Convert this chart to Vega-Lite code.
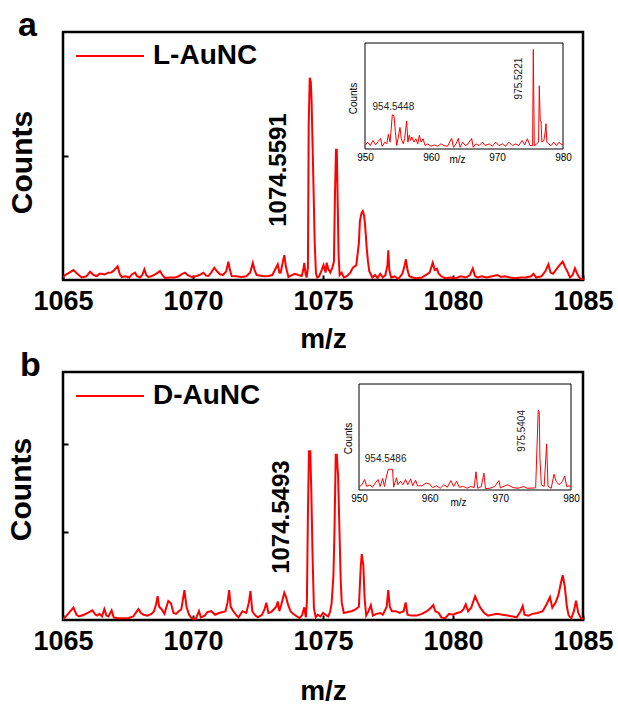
{
  "$schema": "https://vega.github.io/schema/vega-lite/v6.json",
  "padding": {"left": 4, "top": 7, "right": 0, "bottom": 5},
  "background": "white",
  "config": {
    "view": {"stroke": "black", "strokeWidth": 2.5},
    "font": "Liberation Sans",
    "axis": {"grid": false, "domain": false, "labelColor": "black", "titleColor": "black", "tickColor": "black"},
    "legend": {"labelFont": "Liberation Sans"}
  },
  "datasets": {
    "mainA": [
      {"mz":1065.00,"c":0.02},{"mz":1065.08,"c":0.04},{"mz":1065.25,"c":0.06},{"mz":1065.40,"c":0.08},{"mz":1065.55,"c":0.05},{"mz":1065.72,"c":0.02},{"mz":1065.90,"c":0.03},{"mz":1066.04,"c":0.067},{"mz":1066.18,"c":0.04},{"mz":1066.30,"c":0.032},{"mz":1066.40,"c":0.05},{"mz":1066.49,"c":0.051},{"mz":1066.60,"c":0.045},{"mz":1066.74,"c":0.059},{"mz":1066.85,"c":0.06},{"mz":1066.94,"c":0.073},{"mz":1067.10,"c":0.11},{"mz":1067.18,"c":0.05},{"mz":1067.26,"c":0.024},{"mz":1067.40,"c":0.03},{"mz":1067.55,"c":0.02},{"mz":1067.65,"c":0.045},{"mz":1067.77,"c":0.059},{"mz":1067.85,"c":0.03},{"mz":1067.96,"c":0.02},{"mz":1068.05,"c":0.04},{"mz":1068.13,"c":0.086},{"mz":1068.20,"c":0.04},{"mz":1068.28,"c":0.024},{"mz":1068.40,"c":0.03},{"mz":1068.54,"c":0.046},{"mz":1068.65,"c":0.06},{"mz":1068.73,"c":0.073},{"mz":1068.82,"c":0.04},{"mz":1068.92,"c":0.016},{"mz":1069.10,"c":0.02},{"mz":1069.31,"c":0.02},{"mz":1069.45,"c":0.03},{"mz":1069.55,"c":0.045},{"mz":1069.69,"c":0.059},{"mz":1069.80,"c":0.04},{"mz":1069.95,"c":0.024},{"mz":1070.10,"c":0.03},{"mz":1070.25,"c":0.04},{"mz":1070.40,"c":0.059},{"mz":1070.50,"c":0.035},{"mz":1070.59,"c":0.032},{"mz":1070.70,"c":0.06},{"mz":1070.82,"c":0.099},{"mz":1070.92,"c":0.07},{"mz":1071.04,"c":0.046},{"mz":1071.15,"c":0.04},{"mz":1071.28,"c":0.07},{"mz":1071.36,"c":0.148},{"mz":1071.42,"c":0.08},{"mz":1071.49,"c":0.032},{"mz":1071.65,"c":0.03},{"mz":1071.87,"c":0.024},{"mz":1072.05,"c":0.03},{"mz":1072.20,"c":0.06},{"mz":1072.30,"c":0.137},{"mz":1072.37,"c":0.08},{"mz":1072.45,"c":0.04},{"mz":1072.60,"c":0.035},{"mz":1072.75,"c":0.03},{"mz":1072.90,"c":0.032},{"mz":1073.05,"c":0.04},{"mz":1073.15,"c":0.08},{"mz":1073.26,"c":0.126},{"mz":1073.32,"c":0.06},{"mz":1073.37,"c":0.059},{"mz":1073.45,"c":0.14},{"mz":1073.51,"c":0.2},{"mz":1073.58,"c":0.1},{"mz":1073.67,"c":0.024},{"mz":1073.80,"c":0.04},{"mz":1073.92,"c":0.05},{"mz":1074.05,"c":0.04},{"mz":1074.18,"c":0.032},{"mz":1074.24,"c":0.08},{"mz":1074.28,"c":0.137},{"mz":1074.33,"c":0.05},{"mz":1074.37,"c":0.02},{"mz":1074.42,"c":0.1},{"mz":1074.45,"c":1.25},{"mz":1074.49,"c":1.63},{"mz":1074.53,"c":1.6},{"mz":1074.56,"c":1.45},{"mz":1074.60,"c":1.08},{"mz":1074.64,"c":0.7},{"mz":1074.68,"c":0.3},{"mz":1074.73,"c":0.05},{"mz":1074.78,"c":0.02},{"mz":1074.85,"c":0.03},{"mz":1074.95,"c":0.08},{"mz":1075.02,"c":0.12},{"mz":1075.10,"c":0.06},{"mz":1075.14,"c":0.14},{"mz":1075.20,"c":0.09},{"mz":1075.28,"c":0.06},{"mz":1075.36,"c":0.1},{"mz":1075.42,"c":0.15},{"mz":1075.46,"c":0.69},{"mz":1075.50,"c":1.05},{"mz":1075.53,"c":1.05},{"mz":1075.56,"c":0.69},{"mz":1075.60,"c":0.2},{"mz":1075.64,"c":0.04},{"mz":1075.72,"c":0.06},{"mz":1075.80,"c":0.02},{"mz":1075.92,"c":0.03},{"mz":1076.05,"c":0.06},{"mz":1076.15,"c":0.1},{"mz":1076.28,"c":0.12},{"mz":1076.38,"c":0.3},{"mz":1076.42,"c":0.476},{"mz":1076.48,"c":0.54},{"mz":1076.53,"c":0.556},{"mz":1076.58,"c":0.52},{"mz":1076.62,"c":0.44},{"mz":1076.68,"c":0.26},{"mz":1076.73,"c":0.15},{"mz":1076.78,"c":0.07},{"mz":1076.90,"c":0.02},{"mz":1077.00,"c":0.04},{"mz":1077.10,"c":0.015},{"mz":1077.20,"c":0.05},{"mz":1077.30,"c":0.02},{"mz":1077.40,"c":0.04},{"mz":1077.48,"c":0.12},{"mz":1077.51,"c":0.24},{"mz":1077.55,"c":0.08},{"mz":1077.62,"c":0.02},{"mz":1077.75,"c":0.03},{"mz":1077.90,"c":0.01},{"mz":1078.05,"c":0.05},{"mz":1078.12,"c":0.1},{"mz":1078.19,"c":0.167},{"mz":1078.25,"c":0.08},{"mz":1078.32,"c":0.03},{"mz":1078.45,"c":0.02},{"mz":1078.60,"c":0.015},{"mz":1078.80,"c":0.02},{"mz":1078.95,"c":0.04},{"mz":1079.10,"c":0.06},{"mz":1079.22,"c":0.14},{"mz":1079.30,"c":0.08},{"mz":1079.38,"c":0.09},{"mz":1079.45,"c":0.05},{"mz":1079.55,"c":0.03},{"mz":1079.70,"c":0.015},{"mz":1079.90,"c":0.02},{"mz":1080.10,"c":0.015},{"mz":1080.30,"c":0.03},{"mz":1080.50,"c":0.02},{"mz":1080.65,"c":0.04},{"mz":1080.76,"c":0.094},{"mz":1080.85,"c":0.03},{"mz":1080.95,"c":0.02},{"mz":1081.10,"c":0.03},{"mz":1081.30,"c":0.02},{"mz":1081.50,"c":0.03},{"mz":1081.70,"c":0.04},{"mz":1081.85,"c":0.025},{"mz":1082.00,"c":0.03},{"mz":1082.20,"c":0.02},{"mz":1082.40,"c":0.015},{"mz":1082.60,"c":0.02},{"mz":1082.80,"c":0.02},{"mz":1083.00,"c":0.03},{"mz":1083.10,"c":0.05},{"mz":1083.20,"c":0.02},{"mz":1083.40,"c":0.03},{"mz":1083.55,"c":0.07},{"mz":1083.67,"c":0.126},{"mz":1083.75,"c":0.06},{"mz":1083.85,"c":0.05},{"mz":1083.95,"c":0.08},{"mz":1084.10,"c":0.12},{"mz":1084.22,"c":0.148},{"mz":1084.32,"c":0.1},{"mz":1084.42,"c":0.06},{"mz":1084.50,"c":0.02},{"mz":1084.60,"c":0.04},{"mz":1084.69,"c":0.094},{"mz":1084.80,"c":0.04},{"mz":1084.90,"c":0.01},{"mz":1085.00,"c":0.005}
    ],
    "mainB": [
      {"mz":1065.00,"c":0.01},{"mz":1065.08,"c":0.03},{"mz":1065.25,"c":0.09},{"mz":1065.40,"c":0.14},{"mz":1065.52,"c":0.06},{"mz":1065.62,"c":0.04},{"mz":1065.80,"c":0.06},{"mz":1065.95,"c":0.08},{"mz":1066.13,"c":0.11},{"mz":1066.25,"c":0.06},{"mz":1066.32,"c":0.05},{"mz":1066.40,"c":0.07},{"mz":1066.50,"c":0.04},{"mz":1066.59,"c":0.124},{"mz":1066.67,"c":0.05},{"mz":1066.75,"c":0.04},{"mz":1066.87,"c":0.11},{"mz":1066.95,"c":0.03},{"mz":1067.10,"c":0.02},{"mz":1067.30,"c":0.02},{"mz":1067.50,"c":0.02},{"mz":1067.70,"c":0.04},{"mz":1067.90,"c":0.124},{"mz":1068.00,"c":0.08},{"mz":1068.10,"c":0.06},{"mz":1068.25,"c":0.05},{"mz":1068.40,"c":0.07},{"mz":1068.50,"c":0.1},{"mz":1068.58,"c":0.18},{"mz":1068.64,"c":0.27},{"mz":1068.70,"c":0.15},{"mz":1068.80,"c":0.12},{"mz":1068.90,"c":0.07},{"mz":1069.05,"c":0.216},{"mz":1069.15,"c":0.19},{"mz":1069.25,"c":0.08},{"mz":1069.35,"c":0.07},{"mz":1069.45,"c":0.1},{"mz":1069.55,"c":0.12},{"mz":1069.67,"c":0.34},{"mz":1069.75,"c":0.15},{"mz":1069.85,"c":0.06},{"mz":1069.95,"c":0.02},{"mz":1070.10,"c":0.01},{"mz":1070.23,"c":0.102},{"mz":1070.30,"c":0.03},{"mz":1070.45,"c":0.05},{"mz":1070.55,"c":0.09},{"mz":1070.70,"c":0.1},{"mz":1070.85,"c":0.06},{"mz":1071.00,"c":0.08},{"mz":1071.15,"c":0.09},{"mz":1071.25,"c":0.1},{"mz":1071.33,"c":0.2},{"mz":1071.39,"c":0.34},{"mz":1071.45,"c":0.15},{"mz":1071.55,"c":0.1},{"mz":1071.65,"c":0.06},{"mz":1071.75,"c":0.03},{"mz":1071.90,"c":0.1},{"mz":1072.05,"c":0.08},{"mz":1072.15,"c":0.2},{"mz":1072.21,"c":0.33},{"mz":1072.28,"c":0.1},{"mz":1072.40,"c":0.05},{"mz":1072.50,"c":0.03},{"mz":1072.65,"c":0.06},{"mz":1072.75,"c":0.12},{"mz":1072.82,"c":0.197},{"mz":1072.90,"c":0.08},{"mz":1073.00,"c":0.09},{"mz":1073.10,"c":0.12},{"mz":1073.20,"c":0.15},{"mz":1073.26,"c":0.21},{"mz":1073.32,"c":0.1},{"mz":1073.40,"c":0.18},{"mz":1073.51,"c":0.31},{"mz":1073.58,"c":0.26},{"mz":1073.65,"c":0.18},{"mz":1073.75,"c":0.1},{"mz":1073.85,"c":0.07},{"mz":1074.00,"c":0.04},{"mz":1074.10,"c":0.02},{"mz":1074.20,"c":0.06},{"mz":1074.28,"c":0.144},{"mz":1074.34,"c":0.03},{"mz":1074.38,"c":0.2},{"mz":1074.42,"c":1.2},{"mz":1074.46,"c":1.92},{"mz":1074.51,"c":1.92},{"mz":1074.55,"c":1.47},{"mz":1074.60,"c":0.71},{"mz":1074.65,"c":0.14},{"mz":1074.72,"c":0.03},{"mz":1074.80,"c":0.06},{"mz":1074.90,"c":0.04},{"mz":1075.00,"c":0.08},{"mz":1075.10,"c":0.06},{"mz":1075.20,"c":0.04},{"mz":1075.27,"c":0.09},{"mz":1075.33,"c":0.185},{"mz":1075.40,"c":0.5},{"mz":1075.44,"c":0.98},{"mz":1075.49,"c":1.88},{"mz":1075.53,"c":1.88},{"mz":1075.58,"c":1.64},{"mz":1075.63,"c":1.05},{"mz":1075.68,"c":0.46},{"mz":1075.72,"c":0.2},{"mz":1075.80,"c":0.08},{"mz":1075.95,"c":0.09},{"mz":1076.10,"c":0.1},{"mz":1076.25,"c":0.12},{"mz":1076.38,"c":0.15},{"mz":1076.45,"c":0.6},{"mz":1076.49,"c":0.75},{"mz":1076.55,"c":0.63},{"mz":1076.60,"c":0.25},{"mz":1076.66,"c":0.05},{"mz":1076.75,"c":0.1},{"mz":1076.84,"c":0.17},{"mz":1076.92,"c":0.05},{"mz":1077.05,"c":0.07},{"mz":1077.20,"c":0.08},{"mz":1077.30,"c":0.06},{"mz":1077.45,"c":0.15},{"mz":1077.51,"c":0.34},{"mz":1077.57,"c":0.15},{"mz":1077.65,"c":0.1},{"mz":1077.80,"c":0.1},{"mz":1077.95,"c":0.08},{"mz":1078.10,"c":0.1},{"mz":1078.18,"c":0.2},{"mz":1078.25,"c":0.06},{"mz":1078.40,"c":0.05},{"mz":1078.60,"c":0.05},{"mz":1078.80,"c":0.07},{"mz":1079.00,"c":0.1},{"mz":1079.15,"c":0.14},{"mz":1079.24,"c":0.17},{"mz":1079.32,"c":0.1},{"mz":1079.45,"c":0.08},{"mz":1079.55,"c":0.03},{"mz":1079.70,"c":0.02},{"mz":1079.85,"c":0.07},{"mz":1080.00,"c":0.06},{"mz":1080.15,"c":0.08},{"mz":1080.30,"c":0.09},{"mz":1080.40,"c":0.12},{"mz":1080.49,"c":0.18},{"mz":1080.58,"c":0.1},{"mz":1080.70,"c":0.14},{"mz":1080.85,"c":0.27},{"mz":1080.95,"c":0.2},{"mz":1081.05,"c":0.14},{"mz":1081.20,"c":0.08},{"mz":1081.35,"c":0.05},{"mz":1081.50,"c":0.06},{"mz":1081.70,"c":0.07},{"mz":1081.90,"c":0.06},{"mz":1082.10,"c":0.05},{"mz":1082.30,"c":0.04},{"mz":1082.45,"c":0.03},{"mz":1082.60,"c":0.1},{"mz":1082.68,"c":0.16},{"mz":1082.75,"c":0.06},{"mz":1082.90,"c":0.05},{"mz":1083.05,"c":0.07},{"mz":1083.25,"c":0.08},{"mz":1083.45,"c":0.1},{"mz":1083.60,"c":0.18},{"mz":1083.73,"c":0.26},{"mz":1083.82,"c":0.14},{"mz":1083.95,"c":0.2},{"mz":1084.05,"c":0.28},{"mz":1084.15,"c":0.42},{"mz":1084.22,"c":0.51},{"mz":1084.30,"c":0.38},{"mz":1084.38,"c":0.15},{"mz":1084.45,"c":0.05},{"mz":1084.55,"c":0.02},{"mz":1084.65,"c":0.1},{"mz":1084.73,"c":0.22},{"mz":1084.82,"c":0.08},{"mz":1084.92,"c":0.02},{"mz":1085.00,"c":0.01}
    ],
    "insetA": [
      {"mz":950.0,"c":0.1},{"mz":950.4,"c":0.2},{"mz":950.8,"c":0.1},{"mz":951.2,"c":0.25},{"mz":951.6,"c":0.12},{"mz":952.0,"c":0.22},{"mz":952.37,"c":0.31},{"mz":952.6,"c":0.08},{"mz":953.0,"c":0.2},{"mz":953.3,"c":0.15},{"mz":953.54,"c":0.43},{"mz":953.8,"c":0.2},{"mz":954.14,"c":1.0},{"mz":954.39,"c":0.97},{"mz":954.6,"c":0.5},{"mz":954.8,"c":0.1},{"mz":955.0,"c":0.3},{"mz":955.3,"c":0.63},{"mz":955.5,"c":0.3},{"mz":955.8,"c":0.15},{"mz":956.0,"c":0.3},{"mz":956.31,"c":0.82},{"mz":956.5,"c":0.2},{"mz":956.7,"c":0.4},{"mz":956.9,"c":0.25},{"mz":957.1,"c":0.35},{"mz":957.4,"c":0.2},{"mz":957.7,"c":0.3},{"mz":958.0,"c":0.15},{"mz":958.23,"c":0.4},{"mz":958.5,"c":0.2},{"mz":958.8,"c":0.3},{"mz":959.1,"c":0.1},{"mz":959.5,"c":0.15},{"mz":960.0,"c":0.08},{"mz":960.5,"c":0.12},{"mz":961.0,"c":0.08},{"mz":961.5,"c":0.15},{"mz":962.0,"c":0.1},{"mz":962.5,"c":0.08},{"mz":963.13,"c":0.31},{"mz":963.4,"c":0.05},{"mz":963.8,"c":0.15},{"mz":964.14,"c":0.31},{"mz":964.4,"c":0.05},{"mz":964.8,"c":0.2},{"mz":965.2,"c":0.1},{"mz":965.6,"c":0.15},{"mz":966.16,"c":0.31},{"mz":966.4,"c":0.05},{"mz":966.8,"c":0.15},{"mz":967.3,"c":0.1},{"mz":967.8,"c":0.2},{"mz":968.2,"c":0.1},{"mz":968.8,"c":0.15},{"mz":969.3,"c":0.08},{"mz":969.8,"c":0.2},{"mz":970.3,"c":0.1},{"mz":970.8,"c":0.15},{"mz":971.3,"c":0.08},{"mz":971.8,"c":0.2},{"mz":972.3,"c":0.1},{"mz":972.8,"c":0.15},{"mz":973.3,"c":0.1},{"mz":973.8,"c":0.25},{"mz":974.2,"c":0.12},{"mz":974.6,"c":0.3},{"mz":975.0,"c":0.1},{"mz":975.4,"c":0.1},{"mz":975.5,"c":2.91},{"mz":975.65,"c":0.1},{"mz":976.0,"c":0.15},{"mz":976.3,"c":0.2},{"mz":976.41,"c":1.85},{"mz":976.55,"c":0.82},{"mz":976.67,"c":0.82},{"mz":976.8,"c":0.2},{"mz":977.1,"c":0.25},{"mz":977.3,"c":0.5},{"mz":977.42,"c":0.74},{"mz":977.55,"c":0.2},{"mz":977.8,"c":0.15},{"mz":978.2,"c":0.1},{"mz":978.6,"c":0.2},{"mz":979.0,"c":0.1},{"mz":979.4,"c":0.2},{"mz":979.8,"c":0.12},{"mz":980.0,"c":0.15}
    ],
    "insetB": [
      {"mz":950.0,"c":0.08},{"mz":950.4,"c":0.15},{"mz":950.8,"c":0.3},{"mz":951.1,"c":0.1},{"mz":951.5,"c":0.15},{"mz":951.9,"c":0.08},{"mz":952.3,"c":0.2},{"mz":952.7,"c":0.3},{"mz":953.0,"c":0.1},{"mz":953.35,"c":0.33},{"mz":953.6,"c":0.1},{"mz":953.9,"c":0.4},{"mz":954.15,"c":0.59},{"mz":954.5,"c":0.59},{"mz":954.75,"c":0.59},{"mz":954.9,"c":0.08},{"mz":955.3,"c":0.35},{"mz":955.5,"c":0.15},{"mz":955.9,"c":0.25},{"mz":956.2,"c":0.15},{"mz":956.6,"c":0.3},{"mz":956.9,"c":0.15},{"mz":957.3,"c":0.32},{"mz":957.6,"c":0.12},{"mz":958.0,"c":0.28},{"mz":958.3,"c":0.12},{"mz":958.9,"c":0.12},{"mz":959.5,"c":0.2},{"mz":960.0,"c":0.17},{"mz":960.4,"c":0.07},{"mz":961.0,"c":0.12},{"mz":961.5,"c":0.05},{"mz":962.0,"c":0.15},{"mz":962.5,"c":0.08},{"mz":963.0,"c":0.27},{"mz":963.4,"c":0.1},{"mz":963.8,"c":0.25},{"mz":964.2,"c":0.08},{"mz":964.8,"c":0.1},{"mz":965.3,"c":0.05},{"mz":965.8,"c":0.1},{"mz":966.3,"c":0.07},{"mz":966.55,"c":0.52},{"mz":966.8,"c":0.05},{"mz":967.3,"c":0.1},{"mz":967.68,"c":0.48},{"mz":967.9,"c":0.04},{"mz":968.5,"c":0.05},{"mz":969.2,"c":0.1},{"mz":969.8,"c":0.27},{"mz":970.0,"c":0.06},{"mz":971.0,"c":0.15},{"mz":971.8,"c":0.07},{"mz":972.5,"c":0.05},{"mz":973.3,"c":0.1},{"mz":973.8,"c":0.05},{"mz":975.0,"c":0.06},{"mz":975.36,"c":2.28},{"mz":975.5,"c":2.25},{"mz":975.6,"c":0.92},{"mz":975.8,"c":0.15},{"mz":976.2,"c":0.1},{"mz":976.55,"c":1.32},{"mz":976.75,"c":0.1},{"mz":977.2,"c":0.05},{"mz":977.6,"c":0.45},{"mz":977.9,"c":0.25},{"mz":978.3,"c":0.15},{"mz":978.8,"c":0.25},{"mz":979.1,"c":0.4},{"mz":979.4,"c":0.1},{"mz":979.7,"c":0.12},{"mz":980.0,"c":0.1}
    ]
  },
  "bounds": "flush",
  "spacing": 92,
  "resolve": {"scale": {"color": "independent"}},
  "vconcat": [
    {
      "title": {"text": "a", "anchor": "start", "frame": "group", "fontSize": 34, "fontWeight": "bold", "dx": -45, "offset": -49, "baseline": "alphabetic", "color": "black"},
      "width": 520,
      "height": 248,
      "resolve": {"scale": {"x": "independent", "y": "independent"}},
      "layer": [
        {
          "layer": [
            {
              "data": {"name": "mainA"},
              "mark": {"type": "line", "strokeWidth": 2, "clip": true},
              "encoding": {
                "x": {"field": "mz", "type": "quantitative", "scale": {"domain": [1065, 1085], "nice": false, "zero": false},
                  "axis": {"orient": "bottom", "values": [1065, 1070, 1075, 1080, 1085], "format": "d", "title": "m/z", "titleFontSize": 28, "titleFontWeight": "bold", "titleY": 59, "titleBaseline": "middle", "labelFontSize": 27, "labelFontWeight": "bold", "labelPadding": 13, "tickSize": -5, "tickWidth": 2, "labelFlush": false, "labelOverlap": false}},
                "y": {"field": "c", "type": "quantitative", "scale": {"domain": [0, 2], "nice": false},
                  "axis": {"orient": "left", "values": [1], "labels": false, "tickSize": -5, "tickWidth": 2, "title": "Counts", "titleFontSize": 30, "titleFontWeight": "bold", "titleX": -41, "titleY": 130, "titleAngle": 270, "titleAlign": "center", "titleBaseline": "middle"}},
                "color": {"datum": "L-AuNC", "type": "nominal", "scale": {"range": ["#ff0000"]},
                  "legend": {"orient": "none", "legendX": 12, "legendY": -11, "title": null, "symbolType": "stroke", "symbolSize": 4624, "symbolStrokeWidth": 2, "labelFontSize": 28, "labelFontWeight": "bold", "labelOffset": 8, "labelColor": "black", "padding": 0}}
              }
            },
            {
              "data": {"values": [{"mz": 1073.31, "c": 0.887, "label": "1074.5591"}]},
              "mark": {"type": "text", "angle": 270, "fontSize": 24, "fontWeight": "bold", "align": "center", "baseline": "middle", "color": "black"},
              "encoding": {
                "x": {"field": "mz", "type": "quantitative"},
                "y": {"field": "c", "type": "quantitative"},
                "text": {"field": "label"}
              }
            }
          ]
        },
        {
          "layer": [
            {
              "data": {"values": [{"x1": 950, "x2": 980, "y1": 0, "y2": 3.1}]},
              "mark": {"type": "rect", "fill": "white", "stroke": "black", "strokeWidth": 1},
              "encoding": {
                "x": {"field": "x1", "type": "quantitative", "scale": {"domain": [950, 980], "range": [302, 500], "nice": false, "zero": false},
                  "axis": {"orient": "bottom", "offset": -131, "values": [950, 960, 970, 980], "format": "d", "labelFontSize": 10, "labelPadding": 3, "ticks": false, "labelFlush": false, "title": "m/z", "titleFontSize": 10, "titleFontWeight": "normal", "titleX": 394, "titleY": 10, "titleBaseline": "middle"}},
                "x2": {"field": "x2"},
                "y": {"field": "y1", "type": "quantitative", "scale": {"domain": [0, 3.1], "range": [117, 11], "nice": false},
                  "axis": {"orient": "left", "offset": -302, "values": [1, 2, 3], "labels": false, "tickSize": -3, "tickWidth": 1, "title": "Counts", "titleFontSize": 10, "titleFontWeight": "normal", "titleX": -12, "titleY": 66, "titleAngle": 270, "titleAlign": "center", "titleBaseline": "middle"}},
                "y2": {"field": "y2"}
              }
            },
            {
              "data": {"name": "insetA"},
              "mark": {"type": "line", "strokeWidth": 1, "color": "#ff0000"},
              "encoding": {
                "x": {"field": "mz", "type": "quantitative"},
                "y": {"field": "c", "type": "quantitative"}
              }
            },
            {
              "data": {"values": [{"mz": 954.3, "c": 1.24, "label": "954.5448"}]},
              "mark": {"type": "text", "fontSize": 10, "align": "center", "baseline": "middle", "color": "#222"},
              "encoding": {
                "x": {"field": "mz", "type": "quantitative"},
                "y": {"field": "c", "type": "quantitative"},
                "text": {"field": "label"}
              }
            },
            {
              "data": {"values": [{"mz": 973.3, "c": 2.06, "label": "975.5221"}]},
              "mark": {"type": "text", "angle": 270, "fontSize": 10, "align": "center", "baseline": "middle", "color": "#222"},
              "encoding": {
                "x": {"field": "mz", "type": "quantitative"},
                "y": {"field": "c", "type": "quantitative"},
                "text": {"field": "label"}
              }
            }
          ]
        }
      ]
    },
    {
      "title": {"text": "b", "anchor": "start", "frame": "group", "fontSize": 34, "fontWeight": "bold", "dx": -43, "offset": -49, "baseline": "alphabetic", "color": "black"},
      "width": 520,
      "height": 248,
      "resolve": {"scale": {"x": "independent", "y": "independent"}},
      "layer": [
        {
          "layer": [
            {
              "data": {"name": "mainB"},
              "mark": {"type": "line", "strokeWidth": 2, "clip": true},
              "encoding": {
                "x": {"field": "mz", "type": "quantitative", "scale": {"domain": [1065, 1085], "nice": false, "zero": false},
                  "axis": {"orient": "bottom", "values": [1065, 1070, 1075, 1080, 1085], "format": "d", "title": "m/z", "titleFontSize": 28, "titleFontWeight": "bold", "titleY": 71, "titleBaseline": "middle", "labelFontSize": 27, "labelFontWeight": "bold", "labelPadding": 13, "tickSize": -5, "tickWidth": 2, "labelFlush": false, "labelOverlap": false}},
                "y": {"field": "c", "type": "quantitative", "scale": {"domain": [0, 2.82], "nice": false},
                  "axis": {"orient": "left", "values": [1, 2], "labels": false, "tickSize": -5, "tickWidth": 2, "title": "Counts", "titleFontSize": 30, "titleFontWeight": "bold", "titleX": -42, "titleY": 117, "titleAngle": 270, "titleAlign": "center", "titleBaseline": "middle"}},
                "color": {"datum": "D-AuNC", "type": "nominal", "scale": {"range": ["#ff0000"]},
                  "legend": {"orient": "none", "legendX": 12, "legendY": -11, "title": null, "symbolType": "stroke", "symbolSize": 4624, "symbolStrokeWidth": 2, "labelFontSize": 28, "labelFontWeight": "bold", "labelOffset": 8, "labelColor": "black", "padding": 0}}
              }
            },
            {
              "data": {"values": [{"mz": 1073.42, "c": 1.17, "label": "1074.5493"}]},
              "mark": {"type": "text", "angle": 270, "fontSize": 24, "fontWeight": "bold", "align": "center", "baseline": "middle", "color": "black"},
              "encoding": {
                "x": {"field": "mz", "type": "quantitative"},
                "y": {"field": "c", "type": "quantitative"},
                "text": {"field": "label"}
              }
            }
          ]
        },
        {
          "layer": [
            {
              "data": {"values": [{"x1": 950, "x2": 980, "y1": 0, "y2": 3.03}]},
              "mark": {"type": "rect", "fill": "white", "stroke": "black", "strokeWidth": 1},
              "encoding": {
                "x": {"field": "x1", "type": "quantitative", "scale": {"domain": [950, 980], "range": [296, 508], "nice": false, "zero": false},
                  "axis": {"orient": "bottom", "offset": -130, "values": [950, 960, 970, 980], "format": "d", "labelFontSize": 10, "labelPadding": 3, "ticks": false, "labelFlush": false, "title": "m/z", "titleFontSize": 10, "titleFontWeight": "normal", "titleX": 395, "titleY": 12, "titleBaseline": "middle"}},
                "x2": {"field": "x2"},
                "y": {"field": "y1", "type": "quantitative", "scale": {"domain": [0, 3.03], "range": [118, 12], "nice": false},
                  "axis": {"orient": "left", "offset": -296, "values": [1, 2, 3], "labels": false, "tickSize": -3, "tickWidth": 1, "title": "Counts", "titleFontSize": 10, "titleFontWeight": "normal", "titleX": -11, "titleY": 66, "titleAngle": 270, "titleAlign": "center", "titleBaseline": "middle"}},
                "y2": {"field": "y2"}
              }
            },
            {
              "data": {"name": "insetB"},
              "mark": {"type": "line", "strokeWidth": 1, "color": "#ff0000"},
              "encoding": {
                "x": {"field": "mz", "type": "quantitative"},
                "y": {"field": "c", "type": "quantitative"}
              }
            },
            {
              "data": {"values": [{"mz": 953.77, "c": 0.9, "label": "954.5486"}]},
              "mark": {"type": "text", "fontSize": 10, "align": "center", "baseline": "middle", "color": "#222"},
              "encoding": {
                "x": {"field": "mz", "type": "quantitative"},
                "y": {"field": "c", "type": "quantitative"},
                "text": {"field": "label"}
              }
            },
            {
              "data": {"values": [{"mz": 973.0, "c": 1.69, "label": "975.5404"}]},
              "mark": {"type": "text", "angle": 270, "fontSize": 10, "align": "center", "baseline": "middle", "color": "#222"},
              "encoding": {
                "x": {"field": "mz", "type": "quantitative"},
                "y": {"field": "c", "type": "quantitative"},
                "text": {"field": "label"}
              }
            }
          ]
        }
      ]
    }
  ]
}
